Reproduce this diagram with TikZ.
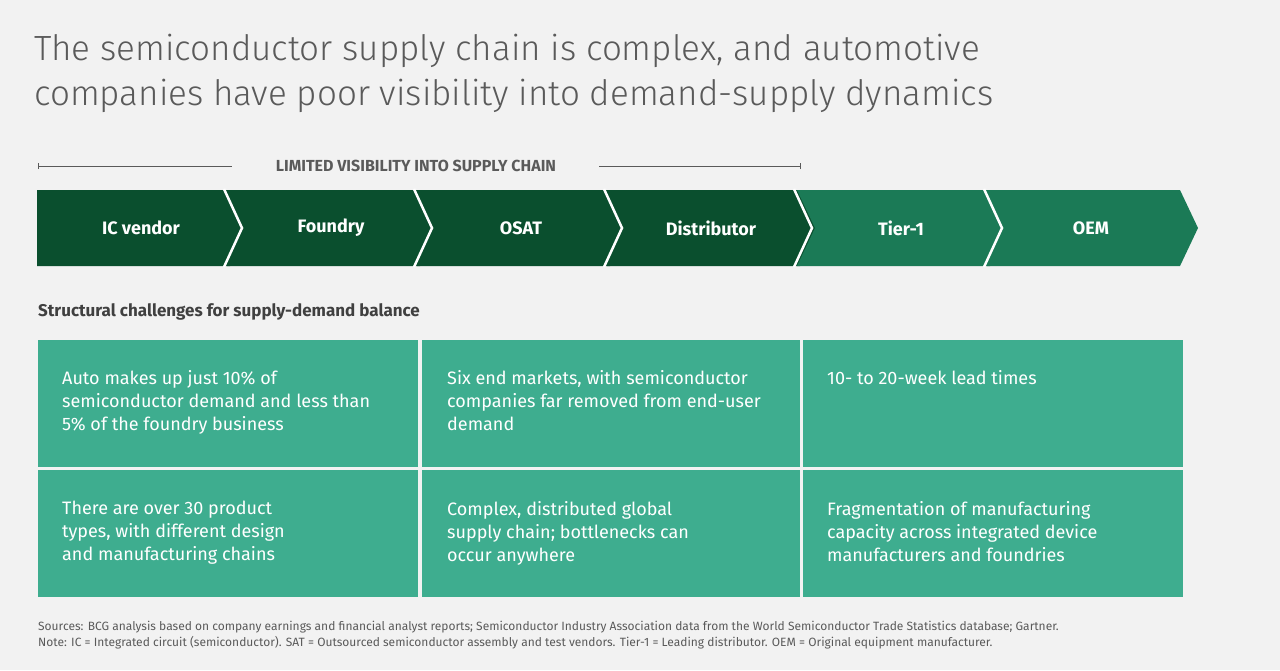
\documentclass[tikz,border=0pt]{standalone}
\usepackage{fontspec}
\setmainfont{Fira Sans}
\newfontfamily\lightfont{Fira Sans Light}
\usetikzlibrary{positioning}
\definecolor{bgc}{HTML}{F2F2F2}
\definecolor{darkg}{HTML}{0A4F2E}
\definecolor{midg}{HTML}{1B7A56}
\definecolor{tileg}{HTML}{3EAD8F}
\definecolor{txtg}{HTML}{5A5A5A}
\tikzset{
  chevlabel/.style={text=white,font=\bfseries\fontsize{18}{22}\selectfont},
  tile/.style={fill=tileg,draw=none},
  tiletext/.style={anchor=north west,align=left,text=white,inner sep=0pt,
    font=\fontsize{18}{23}\selectfont},
}
\begin{document}
\begin{tikzpicture}[x=1pt,y=-1pt]
\useasboundingbox[fill=bgc] (0,0) rectangle (1280,670);
%%Title
\node (title) [anchor=north west,align=left,inner sep=0pt,text=txtg,
  font=\lightfont\fontsize{35}{45}\selectfont] at (34,34)
  {The semiconductor supply chain is complex, and automotive\\companies have poor visibility into demand-supply dynamics};

%%Bracket
\node (vis) [text=txtg,font=\bfseries\fontsize{16}{20}\selectfont] at (416,166) {LIMITED VISIBILITY INTO SUPPLY CHAIN};
\coordinate (bl) at (38,166);
\coordinate (br) at (800,166);
\coordinate (bm1) at (232,166);
\coordinate (bm2) at (599,166);
\draw[txtg,thin] (bl) -- (bm1);
\draw[txtg,thin] (bm2) -- (br);
\draw[txtg,thin] ([yshift=-3]bl) -- ([yshift=3]bl);
\draw[txtg,thin] ([yshift=-3]br) -- ([yshift=3]br);

%%Chevrons
\foreach \i/\lab/\col in {0/IC vendor/darkg,1/Foundry/darkg,2/OSAT/darkg,3/Distributor/darkg,4/Tier-1/midg,5/OEM/midg}{
  \pgfmathsetmacro{\xa}{37+190*\i}
  \ifnum\i=0
    \fill[\col] (\xa,190) -- (\xa+193,190) -- (\xa+211,228) -- (\xa+193,266) -- (\xa,266) -- cycle;
  \else
    \fill[\col] (\xa,190) -- (\xa+193,190) -- (\xa+211,228) -- (\xa+193,266) -- (\xa,266) -- (\xa+18,228) -- cycle;
  \fi
  \node (c\i) [chevlabel] at (\xa+104,228) {\lab};
}
\foreach \i in {1,...,5}{
  \pgfmathsetmacro{\xa}{37+190*\i}
  \draw[white,line width=2.5pt] (\xa-3,189) -- (\xa+15,228) -- (\xa-3,267);
}

%%Challenges
\node (head) [anchor=west,inner sep=0pt,text=black!75,font=\bfseries\fontsize{17}{20}\selectfont] at (38,312)
  {Structural challenges for supply-demand balance};
\fill[tile] (38,340) rectangle (418,467);
\fill[tile] (422,340) rectangle (800,467);
\fill[tile] (803,340) rectangle (1183,467);
\fill[tile] (38,470) rectangle (418,597);
\fill[tile] (422,470) rectangle (800,597);
\fill[tile] (803,470) rectangle (1183,597);
\node (t1) [tiletext] at (62,370) {Auto makes up just 10\% of\\semiconductor demand and less than\\5\% of the foundry business};
\node (t2) [tiletext] at (447,370) {Six end markets, with semiconductor\\companies far removed from end-user\\demand};
\node (t3) [tiletext] at (827,370) {10- to 20-week lead times};
\node (t4) [tiletext] at (62,501) {There are over 30 product\\types, with different design\\and manufacturing chains};
\node (t5) [tiletext] at (447,501) {Complex, distributed global\\supply chain; bottlenecks can\\occur anywhere};
\node (t6) [tiletext] at (827,501) {Fragmentation of manufacturing\\capacity across integrated device\\manufacturers and foundries};

%%Notes
\node (src) [anchor=north west,align=left,inner sep=0pt,text=txtg,font=\fontsize{12}{16}\selectfont] at (38,621)
  {Sources: BCG analysis based on company earnings and financial analyst reports; Semiconductor Industry Association data from the World Semiconductor Trade Statistics database; Gartner.\\Note: IC = Integrated circuit (semiconductor). SAT = Outsourced semiconductor assembly and test vendors. Tier-1 = Leading distributor. OEM = Original equipment manufacturer.};
\end{tikzpicture}
\end{document}
